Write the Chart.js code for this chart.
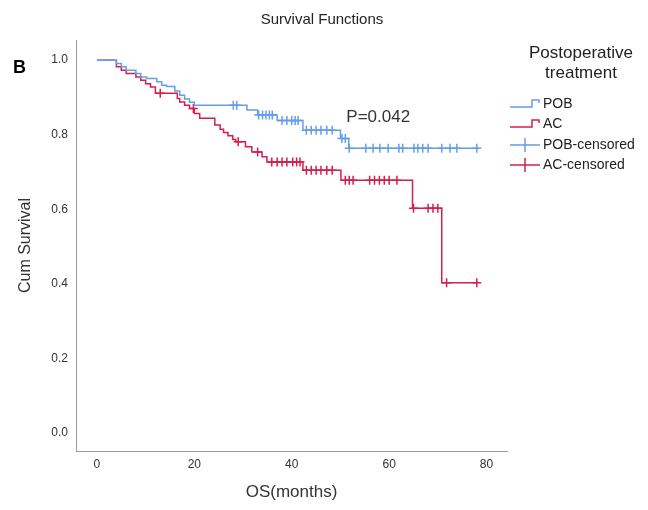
<!DOCTYPE html>
<html>
<head>
<meta charset="utf-8">
<script src="https://cdn.jsdelivr.net/npm/chart.js@4.4.1/dist/chart.umd.min.js"></script>
<style>
  html, body { margin: 0; padding: 0; background: #fff; }
  #wrap { position: relative; width: 648px; height: 510px; }
</style>
</head>
<body>
<div id="wrap"><canvas id="km-chart" width="648" height="510"></canvas></div>
<script>
// step points: time (months) where survival drops, and the survival after the drop
const pobTimes = [0, 4, 5, 6, 8, 9, 10.2, 12.3, 13.3, 14.3, 16, 17, 18, 19, 20, 30.8, 33, 37, 42.3, 50, 51.7, 78]
const pobSurv = [1, 0.991, 0.982, 0.973, 0.964, 0.955, 0.951, 0.942, 0.933, 0.929, 0.917, 0.906, 0.896, 0.887, 0.879, 0.866, 0.853, 0.838, 0.812, 0.79, 0.764, 0.764]
const pobCensored = [28, 28.7, 33.2, 34, 34.7, 35.4, 36, 38, 39, 40, 40.7, 41.3, 43, 44, 45, 46, 47.2, 48.3, 50.3, 51, 51.8, 55.2, 56.7, 58.1, 59.8, 62, 62.8, 65.1, 65.9, 66.9, 68, 70.8, 72.5, 73.9, 78]

const acTimes = [0, 4, 5, 6, 8, 9, 10, 11, 12, 16.5, 17, 18, 19, 20, 21.1, 24.2, 25.3, 26, 26.9, 27.9, 28.5, 30.5, 31.8, 33.9, 34.9, 42.3, 50.1, 64.8, 70.8, 78]
const acSurv = [1, 0.982, 0.973, 0.964, 0.955, 0.946, 0.937, 0.928, 0.911, 0.897, 0.888, 0.879, 0.87, 0.857, 0.844, 0.826, 0.815, 0.806, 0.797, 0.787, 0.781, 0.768, 0.754, 0.741, 0.727, 0.705, 0.678, 0.603, 0.403, 0.403]
const acCensored = [13, 19.8, 29, 33, 35.9, 37, 38, 39, 40.2, 41, 41.7, 43, 44, 45, 46, 47.2, 48.3, 51, 51.8, 52.6, 56, 57, 58, 59, 60, 61.6, 65, 68, 69, 70, 71.8, 78]

const xTicks = [0, 20, 40, 60, 80]
const yTicks = [0, 0.2, 0.4, 0.6, 0.8, 1.0]
const groupNames = ['POB', 'AC', 'POB-censored', 'AC-censored']

const blue = '#649ee8'
const red = '#d31f4c'
const fontFamily = "'Liberation Sans', Arial, sans-serif"

function steps(times, surv) {
    return times.map((t, i) => ({x: t, y: surv[i]}))
}

// survival level at a censored time = last step at or before it
function marks(censored, times, surv) {
    return censored.map(t => {
        let s = surv[0]
        for (let i = 0; i < times.length; i++) {
            if (times[i] <= t) s = surv[i]
        }
        return {x: t, y: s}
    })
}

const extrasPlugin = {
    id: 'extras',
    afterDraw(chart) {
        const ctx = chart.ctx
        const xs = chart.scales.x
        const ys = chart.scales.y
        ctx.save()

        // chart title, centred on the whole picture
        ctx.fillStyle = '#222'
        ctx.font = "15px " + fontFamily
        ctx.textAlign = 'center'
        ctx.textBaseline = 'middle'
        ctx.fillText('Survival Functions', 322, 20)

        // panel letter
        ctx.fillStyle = '#000'
        ctx.font = "bold 18px " + fontFamily
        ctx.textAlign = 'left'
        ctx.fillText('B', 13, 68)

        // p value
        ctx.fillStyle = '#333'
        ctx.font = "17px " + fontFamily
        ctx.fillText('P=0.042', xs.getPixelForValue(51.2), ys.getPixelForValue(0.847))

        // legend
        ctx.fillStyle = '#222'
        ctx.font = "17px " + fontFamily
        ctx.textAlign = 'center'
        ctx.fillText('Postoperative', 581, 53)
        ctx.fillText('treatment', 581, 73)

        const rows = [104, 124, 145, 165]
        const colors = [blue, red, blue, red]
        ctx.lineWidth = 1.5
        rows.forEach((y, i) => {
            ctx.strokeStyle = colors[i]
            ctx.beginPath()
            if (i < 2) {
                ctx.moveTo(510, y + 3)
                ctx.lineTo(532, y + 3)
                ctx.lineTo(532, y - 4)
                ctx.lineTo(539, y - 4)
                ctx.lineTo(539, y - 1)
            } else {
                ctx.moveTo(510, y)
                ctx.lineTo(540, y)
                ctx.moveTo(525, y - 7)
                ctx.lineTo(525, y + 7)
            }
            ctx.stroke()
            ctx.fillStyle = '#222'
            ctx.font = "14px " + fontFamily
            ctx.textAlign = 'left'
            ctx.fillText(groupNames[i], 543, y)
        })
        ctx.restore()
    }
}

let kmChart = new Chart(document.getElementById('km-chart'), {
    type: 'line',
    data: {
        datasets: [
            {
                label: groupNames[0],
                data: steps(pobTimes, pobSurv),
                borderColor: blue,
                borderWidth: 1.5,
                stepped: 'before',
                pointRadius: 0
            },
            {
                label: groupNames[1],
                data: steps(acTimes, acSurv),
                borderColor: red,
                borderWidth: 1.5,
                stepped: 'before',
                pointRadius: 0
            },
            {
                label: groupNames[2],
                data: marks(pobCensored, pobTimes, pobSurv),
                borderColor: blue,
                showLine: false,
                pointStyle: 'cross',
                pointRadius: 4.5,
                pointBorderWidth: 1.5
            },
            {
                label: groupNames[3],
                data: marks(acCensored, acTimes, acSurv),
                borderColor: red,
                showLine: false,
                pointStyle: 'cross',
                pointRadius: 4.5,
                pointBorderWidth: 1.5
            }
        ]
    },
    options: {
        responsive: false,
        animation: false,
        layout: {
            padding: {top: 40, right: 141, bottom: 0, left: 0}
        },
        plugins: {
            legend: {display: false},
            tooltip: {enabled: false},
            title: {display: false}
        },
        scales: {
            x: {
                type: 'linear',
                min: -4.3,
                max: 84.2,
                afterBuildTicks: (scale) => { scale.ticks = xTicks.map(v => ({value: v})) },
                afterFit: (scale) => { scale.height = 59 },
                grid: {display: false, drawTicks: false},
                border: {display: true, color: '#999', width: 1},
                ticks: {
                    color: '#333',
                    padding: 6,
                    font: {size: 12, family: fontFamily}
                },
                title: {
                    display: true,
                    text: 'OS(months)',
                    color: '#333',
                    font: {size: 17, family: fontFamily},
                    padding: {top: 0, bottom: 7}
                }
            },
            y: {
                min: -0.048,
                max: 1.054,
                afterBuildTicks: (scale) => { scale.ticks = yTicks.map(v => ({value: v})) },
                afterFit: (scale) => { scale.width = 76 },
                grid: {display: false, drawTicks: false},
                border: {display: true, color: '#999', width: 1},
                ticks: {
                    color: '#333',
                    padding: 8,
                    font: {size: 12, family: fontFamily},
                    callback: (value) => value.toFixed(1)
                },
                title: {
                    display: true,
                    text: 'Cum Survival',
                    color: '#333',
                    font: {size: 16, family: fontFamily},
                    padding: {top: 16, bottom: 0}
                }
            }
        }
    },
    plugins: [extrasPlugin]
})
</script>
</body>
</html>
